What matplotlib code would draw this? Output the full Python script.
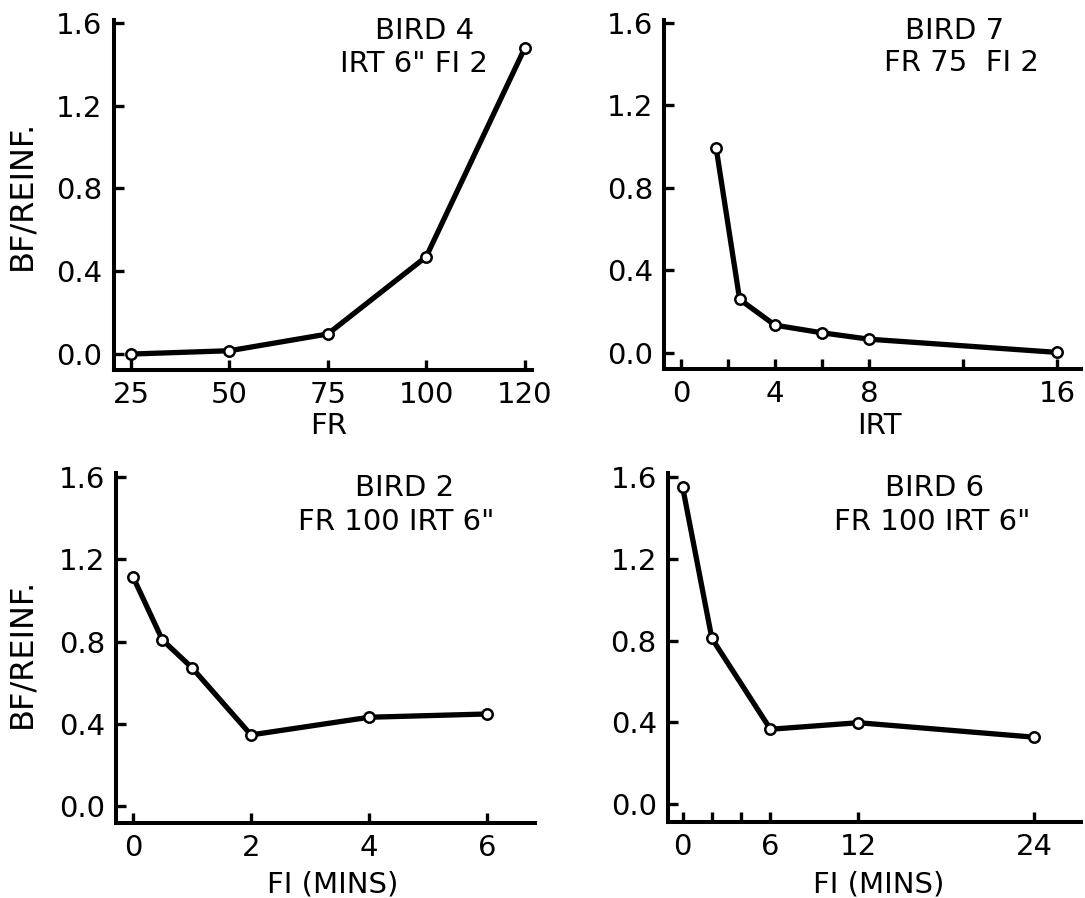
import matplotlib
matplotlib.use('Agg')
from matplotlib import pyplot as plt
import numpy as np

# values
fr_values = [25, 50, 75, 100, 120]
bird4_bf = [0.0, 0.016, 0.097, 0.47, 1.476]

irt_values = [1.5, 2.5, 4, 6, 8, 16]
bird7_bf = [0.994, 0.259, 0.134, 0.097, 0.066, 0.002]

fi_bird2 = [0, 0.5, 1, 2, 4, 6]
bird2_bf = [1.116, 0.808, 0.673, 0.346, 0.432, 0.448]

fi_bird6 = [0, 2, 6, 12, 24]
bird6_bf = [1.554, 0.811, 0.366, 0.398, 0.327]

y_ticks = [0.0, 0.4, 0.8, 1.2, 1.6]
irt_ticks = [0, 2, 4, 6, 8, 12, 16]
irt_labels = ['0', '', '4', '', '8', '', '16']
fi2_ticks = [0, 2, 4, 6]
fi6_ticks = [0, 2, 4, 6, 12, 24]
fi6_labels = ['0', '', '', '6', '12', '24']

W, H = 1085, 898
fontsize = 21
linewidth = 3.8
spinewidth = 2.9

matplotlib.rc('font', family='DejaVu Sans', size=fontsize)


def px_axes(fig, left, right, top, bottom):
    return fig.add_axes([left / W, 1 - bottom / H, (right - left) / W, (bottom - top) / H])


def style(ax):
    for side in ['top', 'right']:
        ax.spines[side].set_visible(False)
    for side in ['left', 'bottom']:
        ax.spines[side].set_linewidth(spinewidth)
    ax.tick_params(direction='in', length=7, width=2.4, pad=8, labelsize=fontsize)
    ax.set_yticks(y_ticks)
    ax.set_yticklabels(['{:.1f}'.format(t) for t in y_ticks])


def curve(ax, x, y):
    ax.plot(x, y, '-', color='black', linewidth=linewidth, marker='o', markersize=7.5,
            markerfacecolor='white', markeredgecolor='black', markeredgewidth=1.8,
            solid_joinstyle='round', zorder=3, clip_on=False)


def ptext(fig, x, y, s, size=fontsize, **kw):
    fig.text(x / W, 1 - y / H, s, ha='center', va='center', fontsize=size, **kw)


fig = plt.figure(figsize=(W / 100, H / 100), dpi=100)

# BIRD 4 - FR
ax1 = px_axes(fig, 113.6, 532, 20, 370)
style(ax1)
pos = np.arange(len(fr_values))
curve(ax1, pos, bird4_bf)
ax1.set_xticks(pos)
ax1.set_xticklabels([str(v) for v in fr_values])
ax1.set_xlim(-0.177, 4.075)
ax1.set_ylim(-0.077, 1.613)

# BIRD 7 - IRT
ax2 = px_axes(fig, 664.4, 1080.5, 20, 369.3)
style(ax2)
curve(ax2, irt_values, bird7_bf)
ax2.set_xticks(irt_ticks)
ax2.set_xticklabels(irt_labels)
ax2.set_xlim(-0.70, 17.0)
ax2.set_ylim(-0.080, 1.613)

# BIRD 2 - FI
ax3 = px_axes(fig, 116, 534.6, 473.3, 823.3)
style(ax3)
curve(ax3, fi_bird2, bird2_bf)
ax3.set_xticks(fi2_ticks)
ax3.set_xlim(-0.286, 6.8)
ax3.set_ylim(-0.084, 1.619)

# BIRD 6 - FI
ax4 = px_axes(fig, 667.9, 1081.2, 473.3, 821.7)
style(ax4)
curve(ax4, fi_bird6, bird6_bf)
ax4.set_xticks(fi6_ticks)
ax4.set_xticklabels(fi6_labels)
ax4.set_xlim(-1.0, 27.2)
ax4.set_ylim(-0.087, 1.62)

# panel captions
ptext(fig, 425, 31, 'BIRD 4')
ptext(fig, 414, 64, 'IRT 6" FI 2')
ptext(fig, 955, 31, 'BIRD 7')
ptext(fig, 961, 63, 'FR 75  FI 2')
ptext(fig, 405, 488, 'BIRD 2')
ptext(fig, 396, 522, 'FR 100 IRT 6"')
ptext(fig, 935, 488, 'BIRD 6')
ptext(fig, 932, 522, 'FR 100 IRT 6"')

# axis labels
ptext(fig, 329, 426, 'FR')
ptext(fig, 879, 426, 'IRT')
ptext(fig, 333, 884, 'FI (MINS)')
ptext(fig, 879, 884, 'FI (MINS)')
ptext(fig, 22, 195, 'BF/REINF.', size=23, rotation=90)
ptext(fig, 22, 653, 'BF/REINF.', size=23, rotation=90)

plt.savefig('out.png', dpi=100)
